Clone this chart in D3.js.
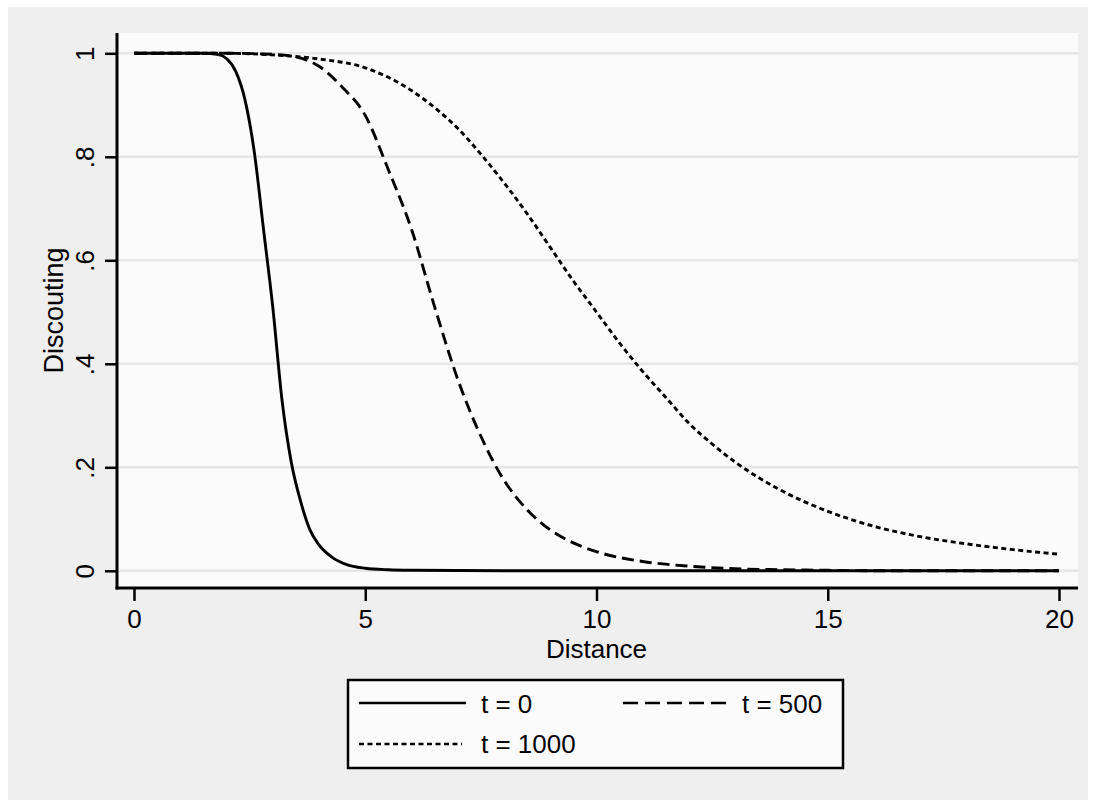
<!DOCTYPE html>
<html>
<head>
<meta charset="utf-8">
<script src="https://cdn.jsdelivr.net/npm/d3@7"></script>
<style>
  body { margin: 0; background: #fff; }
  text { font-family: "Liberation Sans", Arial, sans-serif; fill: #000; }
</style>
</head>
<body>
<svg id="chart" width="1094" height="800"></svg>
<script>
// Discounting by distance, three t values

// distances and values
const distT0 = [0, 1, 1.5, 1.8, 2, 2.2, 2.4, 2.6, 2.8, 3, 3.2, 3.4, 3.6, 3.8, 4, 4.3, 4.6, 5, 5.5, 6, 8, 10, 15, 20];
const valT0 = [1, 1, 1, 0.998, 0.99, 0.965, 0.91, 0.81, 0.66, 0.51, 0.33, 0.21, 0.135, 0.08, 0.05, 0.025, 0.012, 0.005, 0.002, 0.001, 0, 0, 0, 0];

const distT500 = [0, 2, 3, 3.5, 4, 4.5, 5, 5.5, 6, 6.5, 7, 7.5, 8, 8.5, 9, 9.5, 10, 11, 12, 13, 14, 15, 16, 20];
const valT500 = [1, 1, 0.998, 0.993, 0.975, 0.935, 0.88, 0.775, 0.66, 0.51, 0.37, 0.26, 0.175, 0.118, 0.079, 0.054, 0.037, 0.018, 0.009, 0.004, 0.002, 0.001, 0, 0];

const distT1000 = [0, 2, 3, 4, 5, 6, 6.5, 7, 7.5, 8, 8.5, 9, 9.5, 10, 10.5, 11, 11.5, 12, 12.5, 13, 14, 15, 16, 17, 18, 19, 20];
const valT1000 = [1, 1, 0.997, 0.989, 0.972, 0.928, 0.895, 0.855, 0.805, 0.75, 0.69, 0.625, 0.56, 0.5, 0.44, 0.385, 0.335, 0.285, 0.245, 0.21, 0.155, 0.115, 0.086, 0.066, 0.052, 0.041, 0.032];

const seriesNames = ['t = 0', 't = 500', 't = 1000'];
const xTicks = [0, 5, 10, 15, 20];
const yTicks = [0, 0.2, 0.4, 0.6, 0.8, 1];

const svg = d3.select('#chart');

// outer grey region and plot region
svg.append('rect')
  .attr('x', 8).attr('y', 7)
  .attr('width', 1080).attr('height', 793)
  .attr('fill', '#efefef');

const plotL = 117, plotR = 1078, plotT = 33, plotB = 588;

svg.append('rect')
  .attr('x', plotL).attr('y', plotT)
  .attr('width', plotR - plotL).attr('height', plotB - plotT)
  .attr('fill', '#fbfbfb');

const x = d3.scaleLinear()
  .domain([0, 20])
  .range([134, 1059]);

const y = d3.scaleLinear()
  .domain([0, 1])
  .range([570.8, 53.3]);

// gridlines
svg.append('g')
  .selectAll('line')
  .data(yTicks)
  .enter()
  .append('line')
    .attr('x1', plotL).attr('x2', plotR)
    .attr('y1', d => y(d)).attr('y2', d => y(d))
    .attr('stroke', '#e6e6e6')
    .attr('stroke-width', 2.5);

// axes
const yFmt = d => d === 0 ? '0' : d === 1 ? '1' : d3.format('.1f')(d).replace(/^0/, '');

const yAxis = svg.append('g')
  .attr('transform', `translate(${plotL},0)`)
  .call(d3.axisLeft(y).tickValues(yTicks).tickFormat(yFmt).tickSize(12).tickSizeOuter(0));
yAxis.select('.domain').remove();
yAxis.selectAll('.tick line').attr('stroke', '#000').attr('stroke-width', 2.5);
yAxis.selectAll('.tick text')
  .attr('x', null).attr('dy', null)
  .attr('transform', 'translate(-23,0) rotate(-90)')
  .attr('text-anchor', 'middle')
  .style('font-size', '26px');

const xAxis = svg.append('g')
  .attr('transform', `translate(0,${plotB})`)
  .call(d3.axisBottom(x).tickValues(xTicks).tickFormat(d3.format('d')).tickSize(13).tickSizeOuter(0));
xAxis.select('.domain').remove();
xAxis.selectAll('.tick line').attr('stroke', '#000').attr('stroke-width', 2.5);
xAxis.selectAll('.tick text')
  .attr('y', 40).attr('dy', null)
  .style('font-size', '26px');

svg.append('line')
  .attr('x1', plotL).attr('x2', plotL)
  .attr('y1', plotT).attr('y2', plotB + 1.5)
  .attr('stroke', '#000').attr('stroke-width', 3);
svg.append('line')
  .attr('x1', plotL - 1.5).attr('x2', plotR)
  .attr('y1', plotB).attr('y2', plotB)
  .attr('stroke', '#000').attr('stroke-width', 3);

// axis titles
svg.append('text')
  .attr('x', x(10)).attr('y', 658)
  .attr('text-anchor', 'middle')
  .style('font-size', '26px')
  .text('Distance');

svg.append('text')
  .attr('transform', `translate(63,${(plotT + plotB) / 2}) rotate(-90)`)
  .attr('text-anchor', 'middle')
  .style('font-size', '27px')
  .text('Discouting');

// curves
const series = [
  { name: seriesNames[0], dist: distT0, val: valT0, dash: null, legendDash: null },
  { name: seriesNames[1], dist: distT500, val: valT500, dash: '12,6', legendDash: '15,7' },
  { name: seriesNames[2], dist: distT1000, val: valT1000, dash: '5,3.5', legendDash: '5,3.5' }
];

const line = d3.line()
  .x(d => x(d[0]))
  .y(d => y(d[1]))
  .curve(d3.curveMonotoneX);

svg.append('g')
  .selectAll('path')
  .data(series.slice().reverse())
  .enter()
  .append('path')
    .attr('d', s => line(d3.zip(s.dist, s.val)))
    .attr('fill', 'none')
    .attr('stroke', '#000')
    .attr('stroke-width', 2.9)
    .attr('stroke-dasharray', s => s.dash);

// legend
const legend = svg.append('g');
legend.append('rect')
  .attr('x', 348).attr('y', 680)
  .attr('width', 495).attr('height', 88)
  .attr('fill', '#fbfbfb')
  .attr('stroke', '#000')
  .attr('stroke-width', 2.5);

const legendPos = [
  { x: 359, y: 703, w: 107, tx: 481, ty: 713 },
  { x: 623, y: 703, w: 105, tx: 742, ty: 713 },
  { x: 359, y: 744, w: 103, tx: 481, ty: 753 }
];

legend.selectAll('line')
  .data(series)
  .enter()
  .append('line')
    .attr('x1', (d, i) => legendPos[i].x)
    .attr('x2', (d, i) => legendPos[i].x + legendPos[i].w)
    .attr('y1', (d, i) => legendPos[i].y)
    .attr('y2', (d, i) => legendPos[i].y)
    .attr('stroke', '#000')
    .attr('stroke-width', 2.4)
    .attr('stroke-dasharray', d => d.legendDash);

legend.selectAll('text')
  .data(series)
  .enter()
  .append('text')
    .attr('x', (d, i) => legendPos[i].tx)
    .attr('y', (d, i) => legendPos[i].ty)
    .style('font-size', '26px')
    .text(d => d.name);
</script>
</body>
</html>
